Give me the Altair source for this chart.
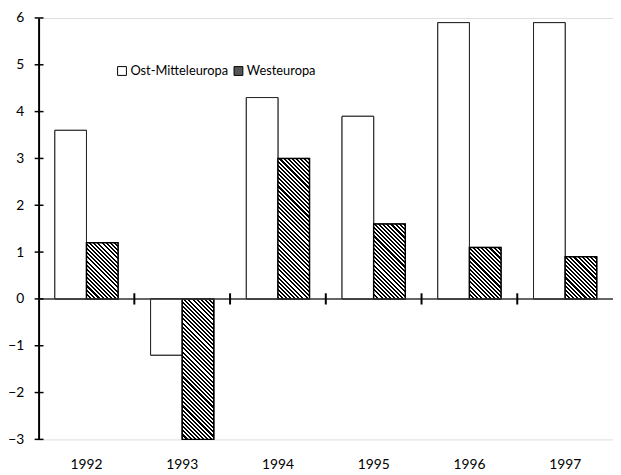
import altair as alt

years = ["1992", "1993", "1994", "1995", "1996", "1997"]
series_names = ["Ost-Mitteleuropa", "Westeuropa"]
ost = [3.6, -1.2, 4.3, 3.9, 5.9, 5.9]
west = [1.2, -3.0, 3.0, 1.6, 1.1, 0.9]
y_ticks = [-3, -2, -1, 0, 1, 2, 3, 4, 5, 6]

PLOT_W = 582
PLOT_H = 427
PAD_INNER = 0.34
STEP = PLOT_W / len(years)
BAR_W = STEP * (1 - PAD_INNER) / 2
PX_PER_UNIT = PLOT_H / 9.0
PERIOD = 4.2  # horizontal hatch period in px
FONT = "Lato"


def hatch(w, h):
    """Diagonal hatch as a striped linear gradient (bounding-box units)."""
    total = w + h
    k = total / (w * w + h * h)
    q = PERIOD / total
    stops = []
    n = int(1 / q) + 2
    for i in range(n):
        a = i * q
        b = a + q * 0.5
        c = a + q
        stops += [
            {"offset": min(a, 1), "color": "black"},
            {"offset": min(b, 1), "color": "black"},
            {"offset": min(b, 1), "color": "white"},
            {"offset": min(c, 1), "color": "white"},
        ]
    return {"gradient": "linear", "x1": 0, "y1": 1, "x2": k * w, "y2": 1 - k * h, "stops": stops}


rows = []
for yr, o, w in zip(years, ost, west):
    rows.append({"year": yr, "series": series_names[0], "value": o,
                 "grad": "white", "sc": "#222222", "sw": 1.0})
    rows.append({"year": yr, "series": series_names[1], "value": w,
                 "grad": hatch(BAR_W, abs(w) * PX_PER_UNIT), "sc": "black", "sw": 1.5})

df = alt.Data(values=rows)

x_scale = alt.Scale(type="band", paddingInner=PAD_INNER, paddingOuter=PAD_INNER / 2)
x_axis = alt.Axis(title=None, labelAngle=0, domain=False, ticks=False, labelPadding=19,
                  labelFontSize=14, labelFont=FONT, labelColor="black")
x_enc = alt.X("year:N", scale=x_scale, axis=x_axis, sort=years)
xoff = alt.XOffset("series:N", scale=alt.Scale(domain=series_names, paddingInner=0, paddingOuter=0))
y_scale = alt.Scale(domain=[-3, 6], nice=False, zero=False)
y_axis = alt.Axis(title=None, values=y_ticks, grid=False, ticks=False, domainColor="black",
                  domainWidth=2, labelPadding=15, labelFontSize=14, labelFont=FONT,
                  labelColor="black")
y_enc = alt.Y("value:Q", scale=y_scale, axis=y_axis)

legend_bars = alt.Chart(df).mark_bar(stroke="black", strokeWidth=1).encode(
    x=x_enc, xOffset=xoff, y=y_enc,
    fill=alt.Fill("series:N",
                  scale=alt.Scale(domain=series_names, range=["white", "#555555"]),
                  legend=alt.Legend(title=None, orient="none", legendX=78, legendY=47,
                                    direction="horizontal", symbolType="square",
                                    symbolSize=80, symbolStrokeColor="black",
                                    symbolStrokeWidth=1, labelFont=FONT, labelFontSize=13,
                                    labelColor="black", columnPadding=4, labelOffset=2)),
)

hatch_bars = alt.Chart(df).mark_bar().encode(
    x=x_enc, xOffset=xoff, y=y_enc,
    fill=alt.Fill("grad:N", scale=None, legend=None),
    stroke=alt.Stroke("sc:N", scale=None, legend=None),
    strokeWidth=alt.StrokeWidth("sw:Q", scale=None, legend=None),
)

zero_line = alt.Chart(alt.Data(values=[{"z": 0}])).mark_rule(color="#333333", strokeWidth=1.5).encode(
    y=alt.Y("z:Q", scale=y_scale, axis=y_axis)
)

y_tick_marks = alt.Chart(alt.Data(values=[{"t": t} for t in y_ticks])).mark_rule(
    color="black", strokeWidth=1.5
).encode(
    y=alt.Y("t:Q", scale=y_scale, axis=y_axis),
    x=alt.value(-4), x2=alt.value(5),
)

x_tick_marks = alt.Chart(alt.Data(values=[{"year": y} for y in years[1:]])).mark_rule(
    color="black", strokeWidth=2, xOffset=-STEP * PAD_INNER / 2
).encode(
    x=alt.X("year:N", scale=x_scale, axis=x_axis, sort=years, bandPosition=0),
    y=alt.datum(0.12), y2=alt.datum(-0.12),
)

chart = alt.layer(legend_bars, hatch_bars, zero_line, y_tick_marks, x_tick_marks).resolve_scale(
    fill="independent"
).properties(
    width=PLOT_W,
    height=PLOT_H,
    autosize=alt.AutoSizeParams(type="none"),
    padding={"left": 31, "top": 7, "right": 0, "bottom": 33},
).configure_view(stroke=None).configure(background="white")

chart.save("out.html", embed_options={"renderer": "svg", "actions": False})
